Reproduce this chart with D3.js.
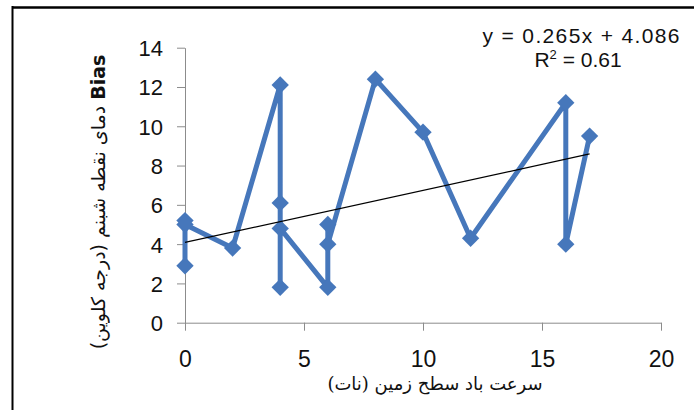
<!DOCTYPE html>
<html>
<head>
<meta charset="utf-8">
<script src="https://cdn.jsdelivr.net/npm/d3@7"></script>
<style>
  body { margin: 0; background: #fff; }
  svg { display: block; }
</style>
</head>
<body>
<svg id="chart" width="694" height="410"></svg>
<script>
// wind speed (knots) and dew point bias, in plotting order
const windSpeed = [0, 0, 0, 2, 4, 4, 4, 4, 6, 6, 6, 8, 10, 12, 16, 16, 17];
const biasValues = [2.9, 5.2, 5.0, 3.8, 12.1, 6.1, 1.8, 4.8, 1.8, 5.0, 4.0, 12.4, 9.7, 4.3, 11.2, 4.0, 9.5];

const xTicks = [0, 5, 10, 15, 20];
const yTicks = [0, 2, 4, 6, 8, 10, 12, 14];

// linear trendline shown on the chart
const trendSlope = 0.265;
const trendIntercept = 4.086;
const trendRange = [0, 17];
const equationLabel = "y = 0.265x + 4.086";
const r2Value = "0.61";

const xTitle = "سرعت باد سطح زمین (نات)";
const yTitleLatin = "Bias";
const yTitle = " دمای نقطه شبنم (درجه کلوین)";

const svg = d3.select("#chart");
const lineColor = "#4677bb";
const axisColor = "#8c8c8c";

const x = d3.scaleLinear().domain([0, 20]).range([185, 661]);
const y = d3.scaleLinear().domain([0, 14]).range([322.7, 47.7]);

// frame (only top and left edges are visible)
svg.append("line").attr("x1", 12).attr("x2", 694).attr("y1", 7.5).attr("y2", 7.5)
  .attr("stroke", "#000").attr("stroke-width", 2.5);
svg.append("line").attr("x1", 12.5).attr("x2", 12.5).attr("y1", 6).attr("y2", 410)
  .attr("stroke", "#000").attr("stroke-width", 2);

// axes
const xAxisG = svg.append("g")
  .attr("transform", "translate(0," + y(0) + ")")
  .call(d3.axisBottom(x).tickValues(xTicks).tickSize(8).tickSizeOuter(0).tickPadding(20));
const yAxisG = svg.append("g")
  .attr("transform", "translate(" + x(0) + ",0)")
  .call(d3.axisLeft(y).tickValues(yTicks).tickSize(8).tickSizeOuter(0).tickPadding(14));

[xAxisG, yAxisG].forEach(g => {
  g.select(".domain").attr("stroke", axisColor);
  g.selectAll("line").attr("stroke", axisColor);
  g.selectAll("text")
    .attr("fill", "#111")
    .style("font-family", "'Liberation Sans', Arial, sans-serif")
    .style("font-size", "22px");
});
xAxisG.selectAll("text").style("font-size", "23px");
yAxisG.selectAll("text").attr("dy", "0.36em");

// series
const points = windSpeed.map((d, i) => ({ x: d, y: biasValues[i] }));

const line = d3.line()
  .x(d => x(d.x))
  .y(d => y(d.y));

svg.append("path")
  .datum(points)
  .attr("fill", "none")
  .attr("stroke", lineColor)
  .attr("stroke-width", 5)
  .attr("stroke-linejoin", "round")
  .attr("d", line);

const diamond = d3.symbol().type(d3.symbolSquare).size(150);
svg.selectAll(".marker")
  .data(points)
  .enter().append("path")
  .attr("class", "marker")
  .attr("d", diamond)
  .attr("fill", lineColor)
  .attr("transform", d => "translate(" + x(d.x) + "," + y(d.y) + ") rotate(45)");

// trendline
const trend = trendRange.map(v => ({ x: v, y: trendSlope * v + trendIntercept }));
svg.append("path")
  .datum(trend)
  .attr("fill", "none")
  .attr("stroke", "#000")
  .attr("stroke-width", 1.2)
  .attr("d", line);

// equation
const eq = svg.append("g")
  .style("font-family", "'Liberation Sans', Arial, sans-serif")
  .attr("fill", "#111")
  .attr("text-anchor", "middle");
eq.append("text")
  .attr("x", 581).attr("y", 43)
  .style("font-size", "21px")
  .attr("textLength", 197)
  .text(equationLabel);
const r2 = eq.append("text")
  .attr("x", 578).attr("y", 67)
  .style("font-size", "21px");
r2.append("tspan").text("R");
r2.append("tspan").attr("dy", -8).style("font-size", "13px").text("2");
r2.append("tspan").attr("dy", 8).text(" = " + r2Value);

// axis titles
svg.append("text")
  .attr("x", 435).attr("y", 390)
  .attr("text-anchor", "middle")
  .attr("direction", "rtl")
  .style("font-family", "'DejaVu Serif', 'DejaVu Sans', serif")
  .style("font-size", "18px")
  .attr("fill", "#111")
  .text(xTitle);

const yt = svg.append("text")
  .attr("transform", "translate(105,202) rotate(-90)")
  .attr("text-anchor", "middle")
  .attr("direction", "rtl")
  .style("font-family", "'DejaVu Sans', sans-serif")
  .style("font-size", "19px")
  .attr("fill", "#111");
yt.append("tspan").style("font-weight", "bold").text(yTitleLatin);
yt.append("tspan").text(yTitle);
</script>
</body>
</html>
